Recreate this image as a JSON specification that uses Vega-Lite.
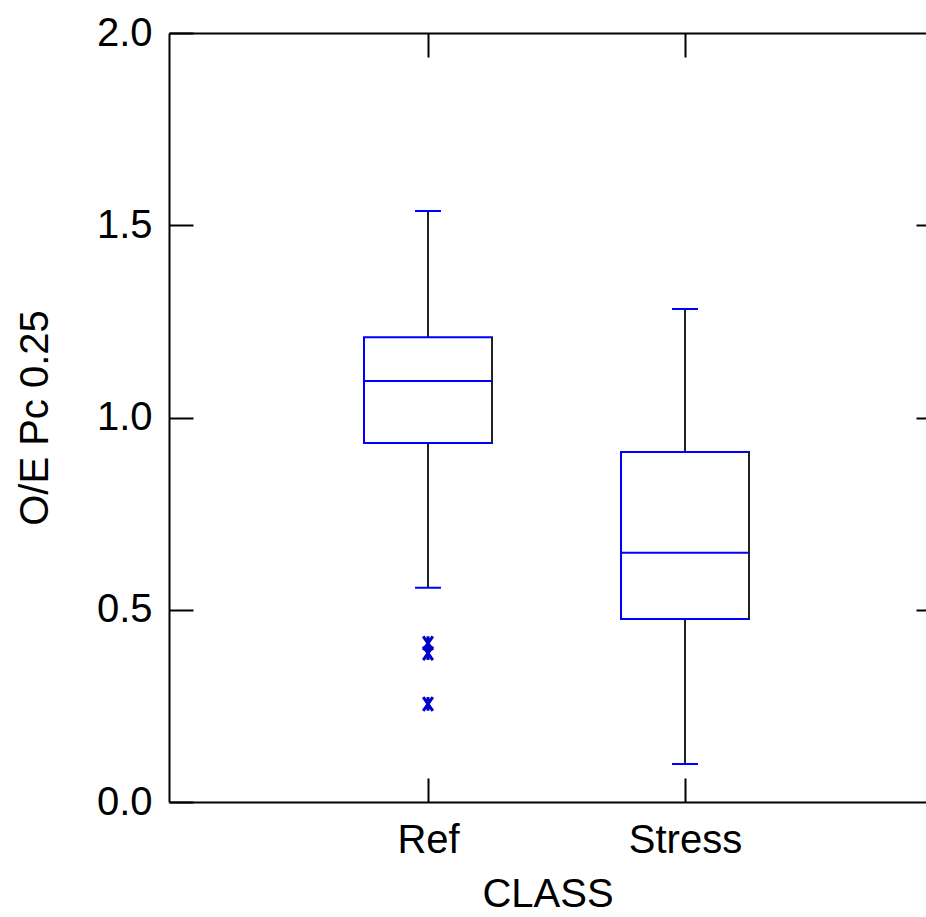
{
  "$schema": "https://vega.github.io/schema/vega-lite/v6.json",
  "width": 757,
  "height": 769,
  "autosize": {"type": "none"},
  "padding": {"left": 169, "top": 33, "right": 0, "bottom": 115},
  "background": "white",
  "config": {
    "view": {"stroke": null},
    "font": "Liberation Sans",
    "axis": {
      "domainColor": "black", "domainWidth": 2,
      "tickColor": "black", "tickWidth": 2,
      "labelFont": "Liberation Sans", "labelFontSize": 40, "labelColor": "black",
      "titleFont": "Liberation Sans", "titleFontSize": 40, "titleFontWeight": "normal", "titleColor": "black",
      "grid": false
    }
  },
  "datasets": {
    "boxes": [
      {"CLASS": "Ref", "lower": 0.557, "q1": 0.934, "median": 1.095, "q3": 1.209, "upper": 1.537},
      {"CLASS": "Stress", "lower": 0.099, "q1": 0.476, "median": 0.648, "q3": 0.910, "upper": 1.282}
    ],
    "outliers": [
      {"CLASS": "Ref", "value": 0.413},
      {"CLASS": "Ref", "value": 0.387},
      {"CLASS": "Ref", "value": 0.255}
    ]
  },
  "layer": [
    {
      "data": {"name": "boxes"},
      "mark": {"type": "rule", "color": "#222222", "strokeWidth": 2},
      "encoding": {
        "x": {"field": "CLASS", "type": "nominal",
          "scale": {"type": "point", "domain": ["Ref", "Stress"], "padding": 0.9728, "align": 0.518},
          "axis": {"orient": "bottom", "title": "CLASS", "labelAngle": 0, "tickSize": -24, "labelPadding": 42, "titlePadding": 14, "domain": true}},
        "y": {"field": "lower", "type": "quantitative",
          "scale": {"domain": [0, 2], "nice": false, "zero": false},
          "axis": {"orient": "left", "title": "O/E Pc 0.25", "values": [0, 0.5, 1, 1.5, 2], "format": ".1f", "tickSize": -24, "labelPadding": 41, "titlePadding": 41}},
        "y2": {"field": "upper"}
      }
    },
    {
      "data": {"name": "boxes"},
      "mark": {"type": "bar", "fill": "white", "stroke": "#0000ff", "strokeWidth": 2, "size": 128},
      "encoding": {
        "x": {"field": "CLASS", "type": "nominal", "axis": {"orient": "top", "title": null, "labels": false, "tickSize": -24, "domain": true}},
        "y": {"field": "q1", "type": "quantitative", "axis": {"orient": "right", "title": null, "labels": false, "values": [0.5, 1, 1.5], "tickSize": -10, "domain": false}},
        "y2": {"field": "q3"}
      }
    },
    {
      "data": {"name": "boxes"},
      "mark": {"type": "rule", "color": "#222222", "strokeWidth": 2, "xOffset": 64},
      "encoding": {
        "x": {"field": "CLASS", "type": "nominal", "axis": null},
        "y": {"field": "q1", "type": "quantitative", "axis": null},
        "y2": {"field": "q3"}
      }
    },
    {
      "data": {"name": "boxes"},
      "mark": {"type": "tick", "color": "#0000ff", "thickness": 2, "size": 128, "opacity": 1},
      "encoding": {
        "x": {"field": "CLASS", "type": "nominal", "axis": null},
        "y": {"field": "median", "type": "quantitative", "axis": null}
      }
    },
    {
      "data": {"name": "boxes"},
      "mark": {"type": "tick", "color": "#0000ff", "thickness": 2, "size": 26, "opacity": 1},
      "encoding": {
        "x": {"field": "CLASS", "type": "nominal", "axis": null},
        "y": {"field": "upper", "type": "quantitative", "axis": null}
      }
    },
    {
      "data": {"name": "boxes"},
      "mark": {"type": "tick", "color": "#0000ff", "thickness": 2, "size": 26, "opacity": 1},
      "encoding": {
        "x": {"field": "CLASS", "type": "nominal", "axis": null},
        "y": {"field": "lower", "type": "quantitative", "axis": null}
      }
    },
    {
      "data": {"name": "outliers"},
      "mark": {"type": "point", "shape": "M-0.7,-1L0.7,1M-0.7,1L0.7,-1M0,-1L0,1", "stroke": "#0000cc", "strokeWidth": 3, "filled": false, "size": 190, "opacity": 1},
      "encoding": {
        "x": {"field": "CLASS", "type": "nominal", "axis": null},
        "y": {"field": "value", "type": "quantitative", "axis": null}
      }
    }
  ],
  "resolve": {"axis": {"x": "independent", "y": "independent"}}
}
